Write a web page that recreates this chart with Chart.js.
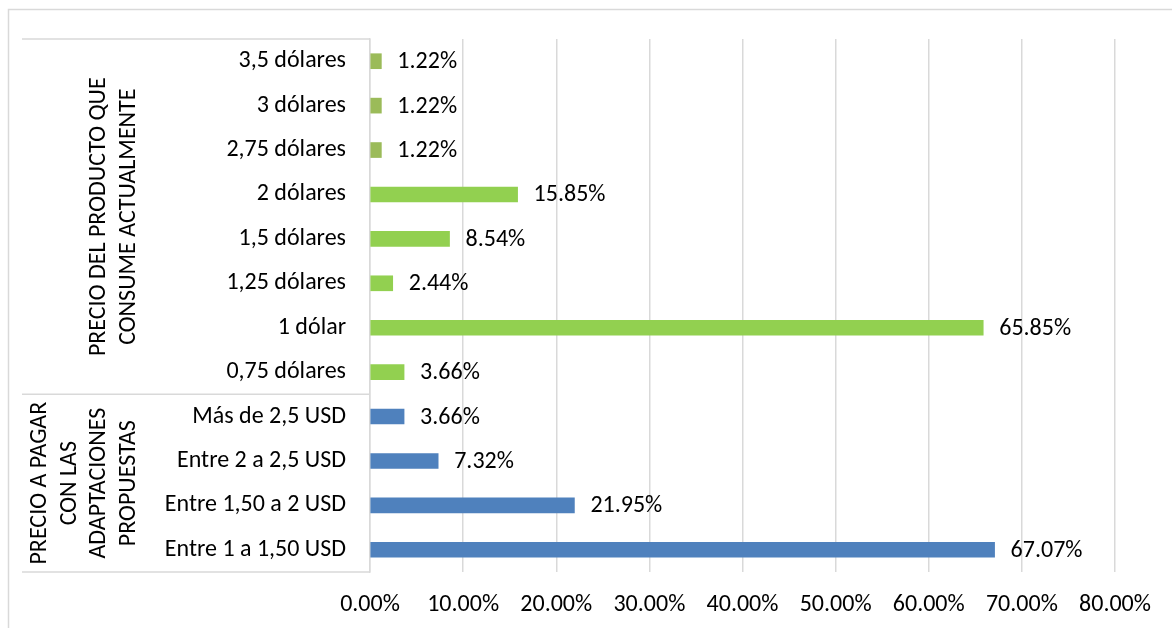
<!DOCTYPE html>
<html>
<head>
<meta charset="utf-8">
<script src="https://cdn.jsdelivr.net/npm/chart.js@4.4.1/dist/chart.umd.min.js"></script>
<style>
html,body{margin:0;padding:0;background:#fff;}
#wrap{position:absolute;left:0;top:0;width:1172px;height:628px;}
</style>
</head>
<body>
<div id="wrap"><canvas id="c" width="1172" height="628"></canvas></div>
<script>
// ---- data ----
const groupCurrent = ["3,5 dólares","3 dólares","2,75 dólares","2 dólares","1,5 dólares","1,25 dólares","1 dólar","0,75 dólares"];
const valuesCurrent = [1.22, 1.22, 1.22, 15.85, 8.54, 2.44, 65.85, 3.66];
const groupProposed = ["Más de 2,5 USD","Entre 2 a 2,5 USD","Entre 1,50 a 2 USD","Entre 1 a 1,50 USD"];
const valuesProposed = [3.66, 7.32, 21.95, 67.07];
const groupTitles = [
  ["PRECIO DEL PRODUCTO QUE","CONSUME ACTUALMENTE"],
  ["PRECIO A PAGAR","CON LAS","ADAPTACIONES","PROPUESTAS"]
];
const xTicks = [0,10,20,30,40,50,60,70,80];

// ---- derived ----
const labels = groupCurrent.concat(groupProposed);
const values = valuesCurrent.concat(valuesProposed);
const OLIVE = '#9BBB59', GREEN = '#92D050', BLUE = '#4F81BD';
const colors = labels.map((l,i)=> i < groupCurrent.length ? (i < 3 ? OLIVE : GREEN) : BLUE);

const FONT = 'Carlito, Lato, "Open Sans", sans-serif';
const FS = 24;
const GRID = '#d9d9d9';

const framePlugin = {
  id:'frame',
  beforeDraw(chart){
    const ctx = chart.ctx;
    ctx.save();
    ctx.fillStyle = '#fff';
    ctx.fillRect(0,0,chart.width,chart.height);
    ctx.strokeStyle = GRID;
    ctx.lineWidth = 1.5;
    ctx.strokeRect(8.5, 9.5, 1400, 900);
    ctx.restore();
  }
};

const groupPlugin = {
  id:'groups',
  afterDraw(chart){
    const ctx = chart.ctx;
    const y = chart.scales.y;
    const ca = chart.chartArea;
    const half = (y.getPixelForValue(1) - y.getPixelForValue(0))/2;
    const left = 22;
    const right = ca.left;
    const nA = groupCurrent.length;
    const yTop = y.getPixelForValue(0) - half;
    const ySep = y.getPixelForValue(nA) - half;
    const yBot = y.getPixelForValue(labels.length-1) + half;
    ctx.save();
    ctx.strokeStyle = GRID;
    ctx.lineWidth = 1.5;
    [yTop, ySep, yBot].forEach(yy=>{
      ctx.beginPath(); ctx.moveTo(left, yy); ctx.lineTo(right, yy); ctx.stroke();
    });
    // group titles (rotated)
    ctx.fillStyle = '#000';
    ctx.font = FS + 'px ' + FONT;
    ctx.textAlign = 'center';
    ctx.textBaseline = 'middle';
    const lineGap = 29.5;
    const lastX = 128.5;
    const ranges = [[yTop, ySep],[ySep, yBot]];
    groupTitles.forEach((lines, gi)=>{
      const cy = (ranges[gi][0] + ranges[gi][1])/2;
      lines.forEach((txt, li)=>{
        const cx = lastX - (lines.length-1-li)*lineGap;
        ctx.save();
        ctx.translate(cx, cy);
        ctx.rotate(-Math.PI/2);
        ctx.fillText(txt, 0, 0);
        ctx.restore();
      });
    });
    // data labels
    const meta = chart.getDatasetMeta(0);
    ctx.textAlign = 'left';
    meta.data.forEach((bar, i)=>{
      ctx.fillText(values[i].toFixed(2) + '%', bar.x + 16, bar.y + 1);
    });
    ctx.restore();
  }
};

new Chart(document.getElementById('c'), {
  type:'bar',
  data:{
    labels: labels,
    datasets:[{
      data: values,
      backgroundColor: colors,
      borderWidth: 0,
      barThickness: 15
    }]
  },
  options:{
    indexAxis:'y',
    responsive:false,
    animation:false,
    devicePixelRatio:1,
    layout:{padding:{top:39, right:57, left:0, bottom:0}},
    plugins:{legend:{display:false}, tooltip:{enabled:false}},
    scales:{
      x:{
        min:0, max:80,
        afterBuildTicks(scale){ scale.ticks = xTicks.map(v=>({value:v})); },
        afterFit(scale){ scale.height = 56; },
        grid:{color:GRID, lineWidth:1.5, drawTicks:false},
        border:{display:false},
        ticks:{
          padding:19,
          color:'#000',
          font:{family:FONT, size:FS},
          callback:(v)=> Number(v).toFixed(2) + '%'
        }
      },
      y:{
        afterFit(scale){ scale.width = 370; },
        grid:{display:false, drawTicks:false},
        border:{display:true, color:GRID, width:1.5},
        ticks:{
          padding:24,
          color:'#000',
          font:{family:FONT, size:FS}
        }
      }
    }
  },
  plugins:[framePlugin, groupPlugin]
});
</script>
</body>
</html>
